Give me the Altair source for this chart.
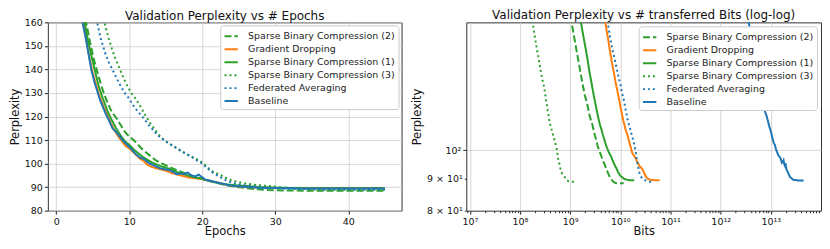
import altair as alt
import pandas as pd

methods = ["Sparse Binary Compression (2)", "Gradient Dropping", "Sparse Binary Compression (1)",
           "Sparse Binary Compression (3)", "Federated Averaging", "Baseline"]
colors = ["#2ca02c", "#ff7f0e", "#2ca02c", "#2ca02c", "#1f77b4", "#1f77b4"]
dashes = [[7, 3], [1, 0], [1, 0], [2, 3], [2, 3], [1, 0]]
bits_per_epoch = [2.6e8, 1.35e9, 4.2e8, 2.7e7, 1e9, 1e12]

sbc2_epochs = [3.7, 4.1, 4.6, 5.1, 5.7, 6.4, 7.0, 7.6, 8.2, 8.8, 9.4, 10.0, 10.6, 11.2, 12.0, 12.8, 13.6, 14.5,
               15.5, 16.5, 17.5, 18.5, 19.5, 20.5, 21.5, 22.5, 23.5, 24.5, 26, 27.5, 29, 31, 34, 38, 42, 45]
sbc2_ppl = [170, 160, 152, 145, 138, 131, 126, 122, 119.5, 116.5, 113.5, 111.5, 110, 108, 105.5, 103.5, 101.5, 100,
            98.6, 97.2, 96, 95, 94, 93, 92.2, 91.4, 90.7, 90.2, 89.6, 89.1, 88.8, 88.6, 88.5, 88.5, 88.5, 88.5]

gd_epochs = [3.4, 3.8, 4.2, 4.6, 5.0, 5.5, 6.0, 6.5, 7.0, 7.5, 8.0, 8.5, 9.0, 9.5, 10.0, 10.5, 11.0, 11.5, 12.0,
             12.5, 13.0, 13.5, 14.0, 15.0, 16.0, 17.0, 18.0, 19.0, 20.0, 21.0, 22.0, 23.0, 24.0, 25.0, 26.0, 28.0,
             30, 33, 36, 40, 45]
gd_ppl = [170, 158, 151, 144, 138.5, 133, 128, 124, 120.5, 117, 114, 111.5, 109.5, 107.5, 106.5, 105, 103.5, 102,
          101, 99.5, 98.7, 98.2, 97.8, 97, 95.8, 95, 94.2, 93.8, 93.4, 92.7, 92, 91.2, 90.6, 90.3, 90, 89.8,
          89.6, 89.6, 89.5, 89.5, 89.5]

sbc1_epochs = [3.5, 3.9, 4.3, 4.8, 5.3, 5.8, 6.4, 7.0, 7.6, 8.2, 8.8, 9.4, 10.0, 10.6, 11.2, 12.0, 12.8, 13.6,
               14.4, 15.5, 16.5, 17.5, 18.5, 19.5, 20.5, 21.5, 22.5, 23.5, 24.5, 26, 28, 30, 33, 36, 40, 45]
sbc1_ppl = [170, 160, 153, 146, 139.5, 133, 127.5, 122.5, 118.5, 115, 112, 109.5, 108, 106, 104.5, 102.5, 101,
            99.8, 98.8, 97.8, 96.5, 95.5, 94.5, 93.8, 93, 92.2, 91.6, 91.1, 90.8, 90.5, 90, 89.8, 89.6, 89.5,
            89.5, 89.5]

sbc3_epochs = [6.2, 6.6, 7.1, 7.6, 8.1, 8.6, 9.2, 9.8, 10.4, 10.9, 11.5, 12.2, 12.9, 13.6, 14.4, 15.2, 16.0, 16.8,
               17.6, 18.5, 19.3, 20.0, 20.7, 21.5, 22.3, 23.2, 24.0, 24.8, 26, 27.5, 29, 30.5, 32, 34, 37, 40, 45]
sbc3_ppl = [170, 160, 154, 149, 144.5, 141, 136.5, 132.5, 129.5, 127.5, 124.5, 120.5, 117, 114, 111, 109, 107.5,
            106, 104.5, 103, 101.8, 100.5, 98.5, 96.5, 95.5, 94, 93, 92.2, 91.5, 90.9, 90.5, 90, 89.5, 89.2, 89,
            89, 89]

fedavg_epochs = [5.2, 5.6, 6.1, 6.7, 7.2, 7.7, 8.3, 8.9, 9.5, 10.0, 10.6, 11.2, 11.8, 12.5, 13.2, 14.1, 15.0, 16.0,
                 17.0, 17.7, 18.5, 19.2, 20.0, 20.7, 21.5, 22.3, 23.2, 24.0, 24.8, 26, 27.5, 29, 31, 34, 37, 40, 45]
fedavg_ppl = [170, 160, 153, 147, 143, 140, 136, 132.5, 129.5, 127.5, 124.5, 122, 120, 117, 114.5, 111.5, 109.5,
              107.5, 105.5, 104.3, 103, 101.5, 100, 98, 96, 94.6, 93, 92, 91.3, 90.6, 90.1, 89.8, 89.5, 89.2, 89,
              89, 89]

base_epochs = [3.3, 3.6, 4.0, 4.4, 4.8, 5.2, 5.6, 6.0, 6.4, 6.8, 7.2, 7.7, 8.2, 8.7, 9.2, 9.7, 10.2, 10.9, 11.5,
               12.0, 12.7, 13.5, 14.2, 15.0, 15.5, 16.0, 16.5, 17.0, 17.5, 18.0, 18.5, 19.0, 19.5, 20.0, 20.5,
               21.0, 22.0, 23.0, 24.0, 25.0, 26.0, 27.3, 28.5, 30, 32, 35, 38, 41, 43, 45]
base_ppl = [170, 160, 154, 147, 140, 135, 131, 127, 124, 121, 118.5, 115, 113.5, 111.5, 109.5, 108, 106.5, 104,
            102.5, 102, 100.2, 99, 98, 97.5, 97.2, 96.5, 95.5, 95.8, 95.6, 96.2, 95, 94.5, 95.3, 94.2, 93, 92.8,
            92, 91.3, 90.6, 90.3, 90.1, 89.8, 89.6, 89.6, 89.5, 89.4, 89.4, 89.4, 89.4, 89.4]

series_epochs = [sbc2_epochs, gd_epochs, sbc1_epochs, sbc3_epochs, fedavg_epochs, base_epochs]
series_ppl = [sbc2_ppl, gd_ppl, sbc1_ppl, sbc3_ppl, fedavg_ppl, base_ppl]

rows = []
for m, eps, ps, rate in zip(methods, series_epochs, series_ppl, bits_per_epoch):
    for e, p in zip(eps, ps):
        rows.append({"method": m, "epoch": e, "ppl": p, "bits": e * rate})
df = pd.DataFrame(rows)

FONT = "DejaVu Sans"


def make_legend(offset):
    return alt.Legend(title=None, orient="top-right", offset=offset, fillColor="white", strokeColor="#cccccc",
                      padding=3, cornerRadius=3, symbolType="stroke", symbolStrokeWidth=2, symbolSize=180,
                      labelFontSize=9.5, labelFont=FONT, labelLimit=400, rowPadding=0, labelOffset=9,
                      labelColor="#222")


def enc(offset):
    lg = make_legend(offset)
    return dict(color=alt.Color("method:N", scale=alt.Scale(domain=methods, range=colors), legend=lg),
                strokeDash=alt.StrokeDash("method:N", scale=alt.Scale(domain=methods, range=dashes), legend=lg))


# Left panel
left_layers = []
for m in methods:
    left_layers.append(
        alt.Chart(df).transform_filter(alt.datum.method == m).mark_line(clip=True, strokeWidth=2).encode(
            x=alt.X("epoch:Q", scale=alt.Scale(domain=[-1.15, 47.3], nice=False),
                    axis=alt.Axis(title="Epochs", values=[0, 10, 20, 30, 40], titlePadding=0, labelPadding=2)),
            y=alt.Y("ppl:Q", scale=alt.Scale(domain=[80, 160], nice=False),
                    axis=alt.Axis(title="Perplexity", values=list(range(80, 161, 10)), titlePadding=4)),
            order="epoch:Q", **enc(3)))
left = alt.layer(*left_layers).properties(
    width=355, height=189, title=alt.TitleParams("Validation Perplexity vs # Epochs", offset=-6))

# Right panel
sup = ["⁰", "¹", "²", "³", "⁴", "⁵", "⁶", "⁷", "⁸", "⁹", "¹⁰", "¹¹", "¹²", "¹³", "¹⁴"]
sup_js = "[" + ",".join("'" + s + "'" for s in sup) + "]"
x_ticks = [k * 10 ** n for n in range(6, 14) for k in range(1, 10) if 10 ** 6.93 <= k * 10 ** n <= 1e14]
major_test = "abs(log(datum.value)/LN10 - round(log(datum.value)/LN10)) < 1e-6"
x_label_expr = f"({major_test}) ? '10' + {sup_js}[round(log(datum.value)/LN10)] : ''"

right_layers = []
for m in methods:
    right_layers.append(
        alt.Chart(df).transform_filter(alt.datum.method == m).mark_line(clip=True, strokeWidth=2).encode(
            x=alt.X("bits:Q", scale=alt.Scale(type="log", domain=[10 ** 6.93, 1e14], nice=False),
                    axis=alt.Axis(title="Bits", values=x_ticks, labelExpr=x_label_expr, titlePadding=0,
                                  labelPadding=2, labelOverlap=False, labelFlush=False,
                                  tickSize={"condition": {"test": major_test, "value": 3.5}, "value": 2},
                                  gridOpacity={"condition": {"test": major_test, "value": 1}, "value": 0})),
            y=alt.Y("ppl:Q", scale=alt.Scale(type="log", domain=[80, 160], nice=False),
                    axis=alt.Axis(title="Perplexity", values=[80, 90, 100], titlePadding=4,
                                  labelExpr="datum.value == 100 ? '10²' : datum.value == 90 ? '9 × 10¹' : '8 × 10¹'",
                                  tickSize={"condition": {"test": "datum.value == 100", "value": 3.5}, "value": 2},
                                  gridOpacity={"condition": {"test": "datum.value == 100", "value": 1}, "value": 0})),
            order="bits:Q", **enc(4)))
right = alt.layer(*right_layers).properties(
    width=356, height=189,
    title=alt.TitleParams("Validation Perplexity vs # transferred Bits (log-log)", offset=0))

chart = alt.hconcat(left, right, spacing=8).resolve_scale(
    color="independent", strokeDash="independent").resolve_legend(
    color="independent", strokeDash="independent").properties(padding=0).configure_axis(
    labelFont=FONT, titleFont=FONT, labelFontSize=9.5, titleFontSize=11.5, labelColor="#111",
    titleColor="#111", titleFontWeight="normal", tickColor="#222", tickSize=3.5, domain=False,
    gridColor="#cccccc", gridWidth=0.8, labelPadding=2).configure_view(
    stroke="#333", strokeWidth=1).configure_title(
    font=FONT, fontSize=12, fontWeight="normal", color="#111", anchor="middle")

chart.save("out.html", embed_options={"renderer": "svg", "actions": False})
